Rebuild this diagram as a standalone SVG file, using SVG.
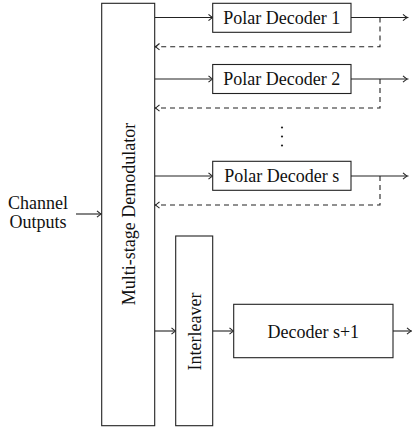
<svg xmlns="http://www.w3.org/2000/svg" width="412" height="430" viewBox="0 0 412 430">
<style>
.box{fill:#fff;stroke:#222;stroke-width:1.1}
.t{font-family:"Liberation Serif","Times New Roman",serif;font-size:18px;fill:#111}
.ln{fill:none;stroke:#222;stroke-width:1.1}
.ar{marker-end:url(#arr)}
.dash{stroke-dasharray:5,4}
</style>
<defs>
<marker id="arr" markerUnits="userSpaceOnUse" markerWidth="10" markerHeight="10" viewBox="-6 -5 8 10" refX="0" refY="0" orient="auto">
<path d="M-4,-3.2 Q-1.2,-0.6 0.5,0 Q-1.2,0.6 -4,3.2" fill="none" stroke="#222" stroke-width="1.1"/>
</marker>
</defs>
<g id="connectors">
<path class="ln ar" d="M76,214 H101"/>
<path class="ln ar" d="M154.7,17.5 H212.5"/>
<path class="ln ar" d="M154.7,79 H212.5"/>
<path class="ln ar" d="M154.7,176 H212.5"/>
<path class="ln ar" d="M351,17.5 H407"/>
<path class="ln ar" d="M351,79 H407"/>
<path class="ln ar" d="M351,176 H407"/>
<path class="ln dash ar" d="M380,17.5 V46.7 H155.5"/>
<path class="ln dash ar" d="M380,79 V108 H155.5"/>
<path class="ln dash ar" d="M380,176 V205 H155.5"/>
<path class="ln ar" d="M154.7,331 H175.5"/>
<path class="ln ar" d="M212.7,331 H233.5"/>
<path class="ln ar" d="M393,331 H411"/>
</g>
<g id="channel">
<text class="t" x="38" y="208.5" text-anchor="middle">Channel</text>
<text class="t" x="38" y="227.5" text-anchor="middle">Outputs</text>
</g>
<g id="demod">
<rect class="box" x="101.7" y="3.3" width="53" height="422.4"/>
<text class="t" text-anchor="middle" transform="translate(134.5,214) rotate(-90)">Multi-stage Demodulator</text>
</g>
<g id="pd1">
<rect class="box" x="212.7" y="3.3" width="138.3" height="29"/>
<text class="t" x="281.8" y="24" text-anchor="middle">Polar Decoder 1</text>
</g>
<g id="pd2">
<rect class="box" x="212.7" y="64.5" width="138.3" height="29"/>
<text class="t" x="281.8" y="85.3" text-anchor="middle">Polar Decoder 2</text>
</g>
<g id="dots">
<circle cx="282" cy="127.5" r="1.1" fill="#222"/>
<circle cx="282" cy="136.5" r="1.1" fill="#222"/>
<circle cx="282" cy="145.5" r="1.1" fill="#222"/>
</g>
<g id="pds">
<rect class="box" x="212.7" y="161.3" width="138.3" height="29"/>
<text class="t" x="281.8" y="182.2" text-anchor="middle">Polar Decoder s</text>
</g>
<g id="interleaver">
<rect class="box" x="175.7" y="236" width="37" height="189.7"/>
<text class="t" text-anchor="middle" transform="translate(201,331.5) rotate(-90)">Interleaver</text>
</g>
<g id="dec">
<rect class="box" x="233.7" y="304.3" width="159.3" height="53.4"/>
<text class="t" x="313.3" y="337.5" text-anchor="middle">Decoder s+1</text>
</g>
</svg>
